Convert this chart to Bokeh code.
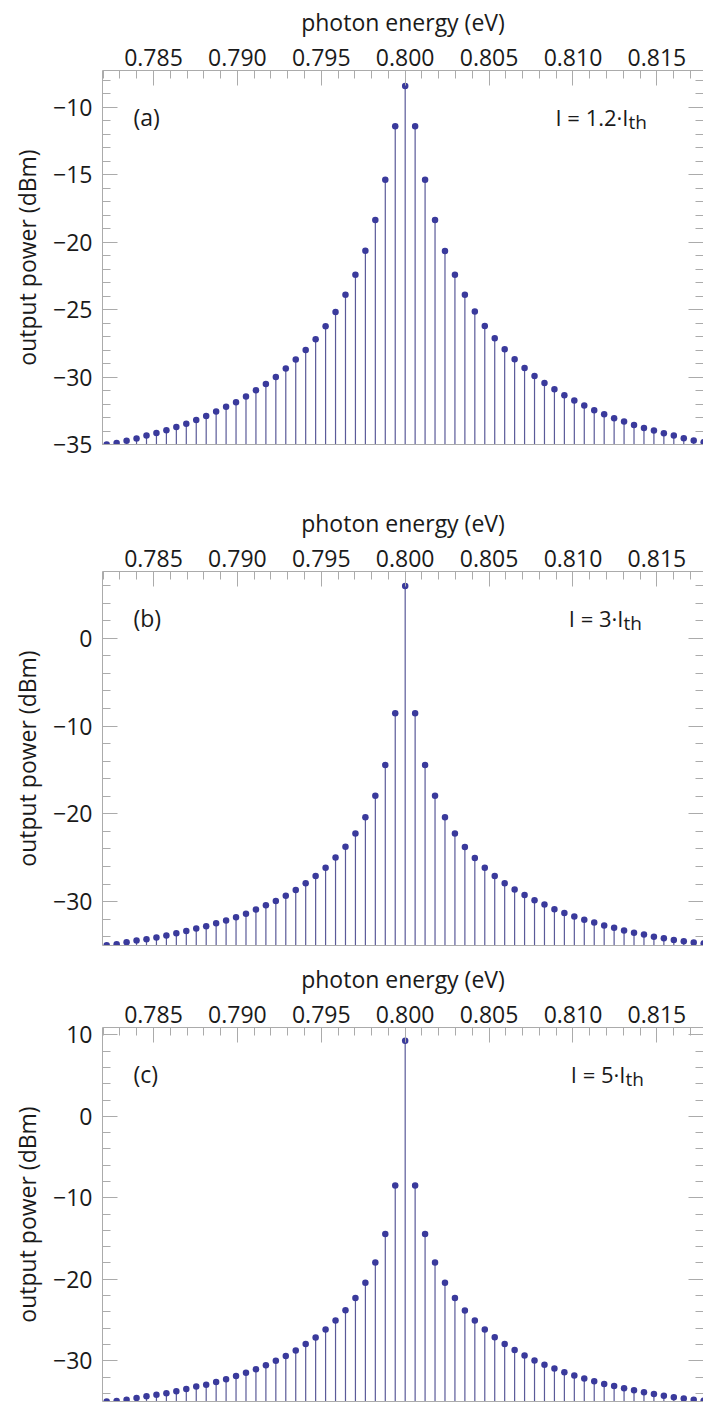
from bokeh.plotting import figure
from bokeh.models import FixedTicker, LinearAxis, Label, CustomJSTickFormatter, Range1d
from bokeh.layouts import column
from bokeh.embed import file_html
from bokeh.resources import INLINE

# ---------------- data ----------------
ENERGY_EV = [
    0.782210, 0.782803, 0.783396, 0.783989, 0.784582, 0.785175, 0.785768, 0.786361,
    0.786954, 0.787547, 0.788140, 0.788733, 0.789326, 0.789919, 0.790512, 0.791105,
    0.791698, 0.792291, 0.792884, 0.793477, 0.794070, 0.794663, 0.795256, 0.795849,
    0.796442, 0.797035, 0.797628, 0.798221, 0.798814, 0.799407, 0.800000, 0.800593,
    0.801186, 0.801779, 0.802372, 0.802965, 0.803558, 0.804151, 0.804744, 0.805337,
    0.805930, 0.806523, 0.807116, 0.807709, 0.808302, 0.808895, 0.809488, 0.810081,
    0.810674, 0.811267, 0.811860, 0.812453, 0.813046, 0.813639, 0.814232, 0.814825,
    0.815418, 0.816011, 0.816604, 0.817197, 0.817790,
]

POWER_A_DBM = [
    -35.00, -34.88, -34.73, -34.56, -34.33, -34.14, -33.94, -33.70, -33.47, -33.18,
    -32.88, -32.56, -32.21, -31.87, -31.44, -30.98, -30.51, -29.99, -29.37, -28.70,
    -27.99, -27.20, -26.24, -25.18, -23.89, -22.41, -20.63, -18.36, -15.37, -11.40,
    -8.41,
    -11.40, -15.37, -18.36, -20.66, -22.41, -23.89, -25.13, -26.21, -27.13, -27.94,
    -28.68, -29.33, -29.92, -30.44, -30.90, -31.35, -31.74, -32.11, -32.46, -32.76,
    -33.05, -33.30, -33.55, -33.77, -33.96, -34.16, -34.33, -34.53, -34.70, -34.83,
]

POWER_B_DBM = [
    -34.97, -34.85, -34.62, -34.44, -34.28, -34.10, -33.87, -33.60, -33.34, -33.07,
    -32.80, -32.46, -32.16, -31.78, -31.37, -30.91, -30.41, -29.92, -29.32, -28.67,
    -27.90, -27.07, -26.13, -24.99, -23.75, -22.23, -20.39, -17.93, -14.43, -8.54,
    5.96,
    -8.54, -14.43, -17.93, -20.39, -22.25, -23.77, -25.02, -26.13, -27.07, -27.90,
    -28.63, -29.24, -29.84, -30.34, -30.87, -31.29, -31.71, -32.08, -32.39, -32.73,
    -32.99, -33.30, -33.56, -33.76, -33.99, -34.17, -34.36, -34.51, -34.67, -34.78,
]

POWER_C_DBM = [
    -35.00, -34.94, -34.78, -34.57, -34.37, -34.16, -34.00, -33.75, -33.46, -33.17,
    -32.93, -32.60, -32.27, -31.86, -31.48, -31.04, -30.54, -30.00, -29.43, -28.73,
    -27.95, -27.16, -26.17, -25.06, -23.81, -22.29, -20.42, -17.95, -14.44, -8.48,
    9.26,
    -8.48, -14.44, -17.95, -20.42, -22.29, -23.83, -25.06, -26.17, -27.12, -27.95,
    -28.69, -29.35, -29.96, -30.50, -30.95, -31.40, -31.81, -32.19, -32.52, -32.84,
    -33.09, -33.38, -33.63, -33.88, -34.07, -34.28, -34.49, -34.62, -34.78, -34.90,
]

X_MAJOR_TICKS = [0.785, 0.790, 0.795, 0.800, 0.805, 0.810, 0.815]
Y_MAJOR_A = [-35, -30, -25, -20, -15, -10]
Y_MAJOR_B = [-30, -20, -10, 0]
Y_MAJOR_C = [-30, -20, -10, 0, 10]

PANEL_TAGS = ["(a)", "(b)", "(c)"]
CURRENT_MAIN = ["I = 1.2·I", "I = 3·I", "I = 5·I"]
CURRENT_SUB = ["th", "th", "th"]
X_TITLE = "photon energy (eV)"
Y_TITLE = "output power (dBm)"

# ---------------- style ----------------
FONT = "Open Sans"
W = 703
FRAME_H = 374
LEFT = 102
X_START, X_END = 0.78196, 0.81778
BASE = -35.0
GRAY = "#ababab"
STEM = "#5a5a98"
DOT = "#3a3a9c"
TXT = "#1a1a1a"

x_minor = [round(0.782 + 0.001 * i, 3) for i in range(37)]

xfmt = CustomJSTickFormatter(code="return tick.toFixed(3);")
yfmt = CustomJSTickFormatter(code="return tick < 0 ? '\u2212' + Math.abs(tick) : String(tick);")
blankfmt = CustomJSTickFormatter(code="return '';")


def style_axis(ax, major_in, minor_in):
    ax.axis_line_color = GRAY
    ax.major_tick_line_color = GRAY
    ax.minor_tick_line_color = GRAY
    ax.major_tick_in = major_in
    ax.major_tick_out = 0
    ax.minor_tick_in = minor_in
    ax.minor_tick_out = 0
    ax.major_label_text_font = FONT
    ax.major_label_text_font_size = "23px"
    ax.major_label_text_color = TXT
    ax.axis_label_text_font = FONT
    ax.axis_label_text_font_size = "23px"
    ax.axis_label_text_font_style = "normal"
    ax.axis_label_text_color = TXT


def panel(power, y_top, y_major, y_minor, top_border, bottom_border, tag,
          cur_main, cur_sub, sub_xpx):
    p = figure(width=W, height=top_border + FRAME_H + bottom_border,
               x_range=Range1d(X_START, X_END), y_range=Range1d(BASE, y_top),
               x_axis_location="above", output_backend="svg", toolbar_location=None,
               min_border_left=LEFT, min_border_right=0,
               min_border_top=top_border, min_border_bottom=bottom_border)
    p.xgrid.visible = False
    p.ygrid.visible = False
    p.outline_line_color = None
    p.background_fill_color = "white"
    p.border_fill_color = "white"

    xa = p.xaxis[0]
    xa.ticker = FixedTicker(ticks=X_MAJOR_TICKS, minor_ticks=x_minor)
    xa.formatter = xfmt
    xa.axis_label = X_TITLE
    style_axis(xa, 15, 8)
    xa.major_label_standoff = 5
    xa.axis_label_standoff = 8

    ya = p.yaxis[0]
    ya.ticker = FixedTicker(ticks=y_major, minor_ticks=y_minor)
    ya.formatter = yfmt
    ya.axis_label = Y_TITLE
    style_axis(ya, 15, 8)
    ya.major_label_standoff = 10
    ya.axis_label_standoff = 7

    # right frame: ticks only (the frame line itself lies just past the crop)
    ra = LinearAxis(ticker=FixedTicker(ticks=y_major, minor_ticks=y_minor),
                    formatter=blankfmt)
    style_axis(ra, 15, 8)
    ra.axis_line_color = None
    ra.major_label_standoff = 0
    p.add_layout(ra, "right")

    # bottom frame: plain line
    ba = LinearAxis(ticker=FixedTicker(ticks=[]), formatter=blankfmt)
    style_axis(ba, 0, 0)
    ba.major_label_standoff = 0
    p.add_layout(ba, "below")

    p.segment(x0=ENERGY_EV, y0=[BASE] * len(ENERGY_EV), x1=ENERGY_EV, y1=power,
              line_color=STEM, line_width=1.2)
    p.scatter(ENERGY_EV, power, size=6.5, fill_color=DOT, line_color=None)

    dy = (y_top - BASE) / FRAME_H
    dx = (X_END - X_START) / (W - LEFT)
    p.add_layout(Label(x=X_START + 31 * dx, y=y_top - 46.5 * dy, text=tag,
                       text_font=FONT, text_font_size="23px", text_color=TXT,
                       text_baseline="alphabetic", text_align="left"))
    sx = X_START + (sub_xpx - LEFT) * dx
    p.add_layout(Label(x=sx, y=y_top - 46.5 * dy, text=cur_main,
                       text_font=FONT, text_font_size="22px", text_color=TXT,
                       text_baseline="alphabetic", text_align="right"))
    p.add_layout(Label(x=sx, y=y_top - 51.5 * dy, text=cur_sub,
                       text_font=FONT, text_font_size="19px", text_color=TXT,
                       text_baseline="alphabetic", text_align="left"))
    return p


pa = panel(POWER_A_DBM, -7.27, Y_MAJOR_A, list(range(-35, -7)), 70, 20,
           PANEL_TAGS[0], CURRENT_MAIN[0], CURRENT_SUB[0], 628)
pb = panel(POWER_B_DBM, 7.6, Y_MAJOR_B, list(range(-34, 8, 2)), 107, 2,
           PANEL_TAGS[1], CURRENT_MAIN[1], CURRENT_SUB[1], 623)
pc = panel(POWER_C_DBM, 10.9, Y_MAJOR_C, list(range(-34, 11, 2)), 80, 2,
           PANEL_TAGS[2], CURRENT_MAIN[2], CURRENT_SUB[2], 625)

layout = column(pa, pb, pc, spacing=0)
open("out.html", "w").write(file_html(layout, INLINE))
